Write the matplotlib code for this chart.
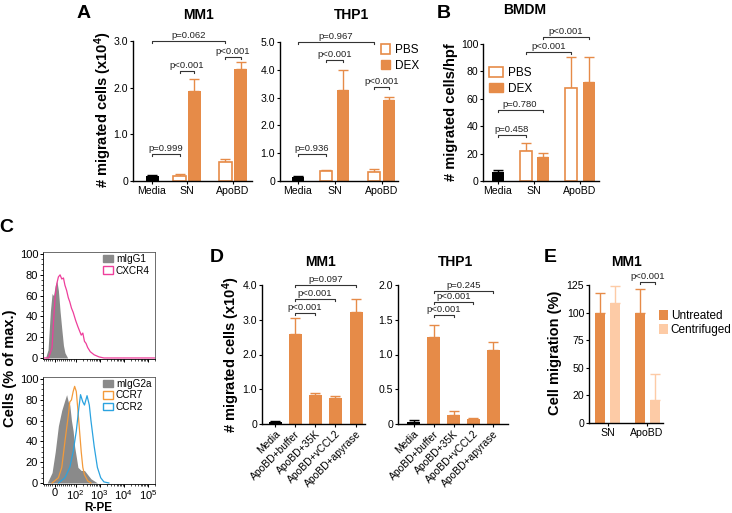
import matplotlib.pyplot as plt
from matplotlib.patches import Patch
from matplotlib.ticker import AutoMinorLocator, FixedLocator

plt.rcParams['font.family'] = ['Liberation Sans', 'DejaVu Sans']
plt.rcParams['mathtext.fontset'] = 'custom'
plt.rcParams['mathtext.rm'] = 'Liberation Sans'
plt.rcParams['mathtext.bf'] = 'Liberation Sans:bold'
plt.rcParams['mathtext.it'] = 'Liberation Sans:italic'

# ---- data ----
# A: MM1 / THP1 migration (x10^4)
groups = ['Media', 'SN', 'ApoBD']
mm1_media, mm1_media_err = 0.11, 0.02
mm1_pbs, mm1_pbs_err = [0.10, 0.40], [0.05, 0.07]
mm1_dex, mm1_dex_err = [1.93, 2.39], [0.25, 0.15]
thp1_media, thp1_media_err = 0.15, 0.03
thp1_pbs, thp1_pbs_err = [0.37, 0.33], [0.04, 0.11]
thp1_dex, thp1_dex_err = [3.29, 2.91], [0.69, 0.10]
# B: BMDM migrated cells/hpf
bmdm_media, bmdm_media_err = 6.3, 1.6
bmdm_pbs, bmdm_pbs_err = [22.0, 67.8], [5.8, 22.5]
bmdm_dex, bmdm_dex_err = [17.7, 72.2], [2.9, 18.6]

# C: flow histograms (R-PE, % of max)
igg1_x = [-43, -31, -20, -12, -5, 3, 11, 18, 26, 34, 42, 49, 62]
igg1_y = [0, 8, 45, 62, 60, 70, 74, 65, 45, 28, 12, 5, 0]
cxcr4_x = [-50, -28, -12, -5, 3, 11, 18, 26, 34, 42, 49, 57, 65, 72, 80, 88, 100,
           124, 145, 170, 198, 232, 270, 316, 405, 590, 940, 1500, 200000]
cxcr4_y = [0, 0, 10, 35, 60, 72, 78, 80, 76, 77, 70, 65, 58, 54, 48, 44, 36,
           30, 26, 22, 24, 16, 14, 10, 6, 3, 1, 0, 0]
igg2a_x = [-35, -12, 3, 18, 34, 49, 57, 65, 72, 80, 88, 95, 106, 124, 170, 232, 316, 432, 590, 800]
igg2a_y = [0, 10, 30, 55, 70, 80, 85, 78, 75, 60, 50, 35, 25, 15, 12, 12, 8, 4, 2, 0]
ccr7_x = [-12, 18, 34, 49, 65, 72, 80, 88, 95, 106, 124, 145, 170, 198, 232, 316, 432]
ccr7_y = [0, 5, 15, 40, 65, 78, 80, 88, 93, 88, 70, 50, 30, 15, 8, 2, 0]
ccr2_x = [18, 49, 72, 88, 106, 132, 159, 198, 232, 297, 369, 432, 590, 800, 1100, 1500, 2400]
ccr2_y = [0, 5, 15, 30, 50, 70, 85, 78, 75, 84, 75, 60, 35, 15, 5, 1, 0]

# D: inhibitors
treatments = ['Media', 'ApoBD+buffer', 'ApoBD+35K', 'ApoBD+vCCL2', 'ApoBD+apyrase']
d_mm1 = [0.07, 2.58, 0.83, 0.76, 3.21]
d_mm1_err = [0.02, 0.46, 0.05, 0.06, 0.40]
d_thp1 = [0.035, 1.25, 0.13, 0.067, 1.07]
d_thp1_err = [0.02, 0.18, 0.06, 0.025, 0.11]

# E: centrifugation
e_groups = ['SN', 'ApoBD']
e_untreated, e_untreated_err = [100, 100], [17.5, 21.4]
e_centrifuged, e_centrifuged_err = [108.4, 21.0], [15.6, 23.4]

# ---- style / layout ----
W, H = 732, 513
ORANGE = '#E68B48'
PEACH = '#FDCBA6'
GRAY = '#8a8a8a'
PINK = '#EE3E9B'
CCR7C = '#F39A3A'
CCR2C = '#2BA3E0'
TICK_FS = 7.6
P_FS = 6.8

fig = plt.figure(figsize=(W / 100, H / 100), dpi=100)


def add_ax(l, t, r, b):
    return fig.add_axes([l / W, 1 - b / H, (r - l) / W, (b - t) / H])


def prism(ax, ymax, yticks, ylabels=None):
    for s in ['top', 'right']:
        ax.spines[s].set_visible(False)
    for s in ['left', 'bottom']:
        ax.spines[s].set_linewidth(1.0)
    ax.set_ylim(0, ymax)
    ax.set_yticks(yticks)
    if ylabels is not None:
        ax.set_yticklabels(ylabels)
    ax.tick_params(labelsize=TICK_FS, length=2.5, width=0.8, pad=1.0)


def bar(ax, x, h, err, w, color, hollow=False):
    if hollow:
        ax.bar(x, h, w, facecolor='white', edgecolor=color, linewidth=1.2, zorder=2)
    else:
        ax.bar(x, h, w, color=color, zorder=2)
    ax.errorbar(x, h, yerr=[[0], [err]], color=color, capsize=3.5, elinewidth=1.0,
                capthick=1.0, fmt='none', zorder=1)


def bracket(ax, x1, x2, y, text, px_h):
    lo, hi = ax.get_ylim()
    drop = (hi - lo) * 2.0 / px_h
    ax.plot([x1, x1, x2, x2], [y - drop, y, y, y - drop], color='#333333', lw=0.8,
            clip_on=False, zorder=3)
    ax.annotate(text, xy=((x1 + x2) / 2, y), xytext=(0, 0.6), textcoords='offset points',
                ha='center', va='bottom', fontsize=P_FS, color='#222222', annotation_clip=False)


def ftext(x, y, s, **kw):
    fig.text(x / W, 1 - y / H, s, **kw)


def grouped(ax, pos, media, media_err, pbs, pbs_err, dex, dex_err, w):
    bar(ax, pos['Media'], media, media_err, w, 'black')
    for i, g in enumerate(['SN', 'Apo']):
        bar(ax, pos[g + '_PBS'], pbs[i], pbs_err[i], w, ORANGE, hollow=True)
        bar(ax, pos[g + '_DEX'], dex[i], dex_err[i], w, ORANGE)
    centers = [pos['Media'], (pos['SN_PBS'] + pos['SN_DEX']) / 2,
               (pos['Apo_PBS'] + pos['Apo_DEX']) / 2]
    ax.set_xticks(centers)
    ax.set_xticklabels(groups)


def pbs_dex_legend(ax, x, y, hl):
    ax.legend(handles=[Patch(facecolor='white', edgecolor=ORANGE, linewidth=1.2, label='PBS'),
                       Patch(facecolor=ORANGE, edgecolor=ORANGE, label='DEX')],
              loc='upper left', bbox_to_anchor=(x / W, 1 - y / H), bbox_transform=fig.transFigure,
              frameon=False, fontsize=8.5, handlelength=hl, handleheight=0.9, handletextpad=0.4,
              labelspacing=0.3, borderpad=0, borderaxespad=0)


# ---- A: MM1 ----
axA1 = add_ax(133, 41, 252, 181)
prism(axA1, 3.0, [0, 1, 2, 3], ['0', '1.0', '2.0', '3.0'])
axA1.set_xlim(0, 119)
posA1 = {'Media': 19, 'SN_PBS': 46.5, 'SN_DEX': 61, 'Apo_PBS': 92, 'Apo_DEX': 107.5}
grouped(axA1, posA1, mm1_media, mm1_media_err, mm1_pbs, mm1_pbs_err, mm1_dex, mm1_dex_err, 13)
for a, b, y, t in [('Media', 'Apo_PBS', 3.0, 'p=0.062'), ('SN_PBS', 'SN_DEX', 2.36, 'p<0.001'),
                   ('Apo_PBS', 'Apo_DEX', 2.66, 'p<0.001'), ('Media', 'SN_PBS', 0.58, 'p=0.999')]:
    bracket(axA1, posA1[a], posA1[b], y, t, 140)

# ---- A: THP1 ----
axA2 = add_ax(280, 42, 398, 181)
prism(axA2, 5.0, [0, 1, 2, 3, 4, 5], ['0', '1.0', '2.0', '3.0', '4.0', '5.0'])
axA2.set_xlim(0, 118)
posA2 = {'Media': 17.5, 'SN_PBS': 46, 'SN_DEX': 63, 'Apo_PBS': 94, 'Apo_DEX': 109}
grouped(axA2, posA2, thp1_media, thp1_media_err, thp1_pbs, thp1_pbs_err, thp1_dex, thp1_dex_err, 12)
for a, b, y, t in [('Media', 'Apo_PBS', 5.0, 'p=0.967'), ('SN_PBS', 'SN_DEX', 4.35, 'p<0.001'),
                   ('Apo_PBS', 'Apo_DEX', 3.37, 'p<0.001'), ('Media', 'SN_PBS', 0.97, 'p=0.936')]:
    bracket(axA2, posA2[a], posA2[b], y, t, 139)
pbs_dex_legend(axA2, 381, 44, 0.8)

# ---- B: BMDM ----
axB = add_ax(483, 44, 599, 181)
prism(axB, 100, [0, 20, 40, 60, 80, 100])
axB.set_xlim(0, 116)
posB = {'Media': 14.5, 'SN_PBS': 43, 'SN_DEX': 59.5, 'Apo_PBS': 88, 'Apo_DEX': 105.5}
grouped(axB, posB, bmdm_media, bmdm_media_err, bmdm_pbs, bmdm_pbs_err, bmdm_dex, bmdm_dex_err, 12)
for a, b, y, t in [('SN_DEX', 'Apo_DEX', 105, 'p<0.001'), ('SN_PBS', 'Apo_PBS', 94.4, 'p<0.001'),
                   ('Media', 'SN_DEX', 51.8, 'p=0.780'), ('Media', 'SN_PBS', 33.6, 'p=0.458')]:
    bracket(axB, posB[a], posB[b], y, t, 137)
pbs_dex_legend(axB, 489, 67, 1.2)

# ---- C: flow histograms ----
minor_x = ([v for v in range(-50, 100, 10) if v != 0] +
           [k * 10 ** d for d in range(2, 5) for k in range(2, 10)] + [2e5])


def flow_ax(t, b, show_labels):
    ax = add_ax(43, t, 155, b)
    ax.set_xscale('symlog', linthresh=100, linscale=0.79)
    ax.set_xlim(-55, 2e5)
    ax.set_ylim(-1, 102)
    ax.set_xticks([0, 1e2, 1e3, 1e4, 1e5])
    ax.xaxis.set_minor_locator(FixedLocator(minor_x))
    if show_labels:
        ax.set_xticklabels(['0', r'$10^2$', r'$10^3$', r'$10^4$', r'$10^5$'])
    else:
        ax.set_xticklabels([])
    ax.set_yticks([0, 20, 40, 60, 80, 100])
    ax.yaxis.set_minor_locator(AutoMinorLocator(4))
    for s in ax.spines.values():
        s.set_linewidth(0.6)
        s.set_color('#555555')
    ax.spines['left'].set_color('black')
    ax.spines['bottom'].set_color('black')
    ax.tick_params(labelsize=8, length=2.5, width=0.7, pad=1.0)
    ax.tick_params(axis='x', pad=0.5)
    ax.tick_params(which='minor', length=1.5, width=0.5)
    return ax


axC1 = flow_ax(252, 359, False)
axC1.fill_between(igg1_x, igg1_y, 0, color=GRAY, lw=0, zorder=1)
axC1.plot(cxcr4_x, cxcr4_y, color=PINK, lw=0.9, zorder=2)
axC1.legend(handles=[Patch(facecolor=GRAY, edgecolor=GRAY, label='mIgG1'),
                     Patch(facecolor='white', edgecolor=PINK, label='CXCR4')],
            loc='upper left', bbox_to_anchor=(103 / W, 1 - 254 / H), bbox_transform=fig.transFigure,
            frameon=False, fontsize=7.2, handlelength=1.0, handleheight=0.8, handletextpad=0.3,
            labelspacing=0.15, borderpad=0, borderaxespad=0)

axC2 = flow_ax(377, 484, True)
axC2.fill_between(igg2a_x, igg2a_y, 0, color=GRAY, lw=0, zorder=1)
axC2.plot(ccr7_x, ccr7_y, color=CCR7C, lw=0.9, zorder=2)
axC2.plot(ccr2_x, ccr2_y, color=CCR2C, lw=0.9, zorder=2)
axC2.legend(handles=[Patch(facecolor=GRAY, edgecolor=GRAY, label='mIgG2a'),
                     Patch(facecolor='white', edgecolor=CCR7C, label='CCR7'),
                     Patch(facecolor='white', edgecolor=CCR2C, label='CCR2')],
            loc='upper left', bbox_to_anchor=(103 / W, 1 - 379 / H), bbox_transform=fig.transFigure,
            frameon=False, fontsize=7.2, handlelength=1.0, handleheight=0.8, handletextpad=0.3,
            labelspacing=0.15, borderpad=0, borderaxespad=0)

# ---- D ----
def panel_d(l, r, ymax, yticks, ylabels, vals, errs, pos, sigs):
    ax = add_ax(l, 285, r, 424)
    prism(ax, ymax, yticks, ylabels)
    ax.set_xlim(0, r - l)
    for i, (v, e) in enumerate(zip(vals, errs)):
        bar(ax, pos[i], v, e, 13, 'black' if i == 0 else ORANGE)
    ax.set_xticks(pos)
    ax.set_xticklabels(treatments, rotation=45, ha='right', rotation_mode='anchor', fontsize=7.4)
    for a, b, y, t in sigs:
        bracket(ax, pos[a], pos[b], y, t, 139)
    return ax


panel_d(262, 365, 4.0, [0, 1, 2, 3, 4], ['0', '1.0', '2.0', '3.0', '4.0'], d_mm1, d_mm1_err,
        [13, 33, 53, 73, 94],
        [(1, 4, 4.0, 'p=0.097'), (1, 3, 3.59, 'p<0.001'), (1, 2, 3.2, 'p<0.001')])
panel_d(398, 508, 2.0, [0, 0.5, 1.0, 1.5, 2.0], ['0', '0.5', '1.0', '1.5', '2.0'], d_thp1, d_thp1_err,
        [15.5, 35.5, 55.5, 75, 95],
        [(1, 4, 1.92, 'p=0.245'), (1, 3, 1.76, 'p<0.001'), (1, 2, 1.57, 'p<0.001')])

# ---- E ----
axE = add_ax(589, 285, 663, 423)
prism(axE, 125, [0, 25, 50, 75, 100, 125], ['0', '20', '50', '75', '100', '125'])
axE.set_xlim(0, 74)
posE_u = [11, 51]
posE_c = [26, 65.5]
for i in range(2):
    bar(axE, posE_u[i], e_untreated[i], e_untreated_err[i], 10, ORANGE)
    bar(axE, posE_c[i], e_centrifuged[i], e_centrifuged_err[i], 10, PEACH)
axE.set_xticks([18.5, 58])
axE.set_xticklabels(e_groups)
bracket(axE, posE_u[1], posE_c[1], 128, 'p<0.001', 138)
axE.legend(handles=[Patch(facecolor=ORANGE, label='Untreated'),
                    Patch(facecolor=PEACH, label='Centrifuged')],
           loc='upper left', bbox_to_anchor=(659 / W, 1 - 310 / H), bbox_transform=fig.transFigure,
           frameon=False, fontsize=8.5, handlelength=0.8, handleheight=0.9, handletextpad=0.2,
           labelspacing=0.2, borderpad=0, borderaxespad=0)

# ---- titles, axis labels, panel letters ----
title_kw = dict(fontsize=10, fontweight='bold', ha='center', va='center')
ftext(198, 15, 'MM1', **title_kw)
ftext(352, 15, 'THP1', **title_kw)
ftext(525, 10, 'BMDM', **title_kw)
ftext(321, 262, 'MM1', **title_kw)
ftext(455, 262, 'THP1', **title_kw)
ftext(626, 262, 'MM1', **title_kw)

lab_kw = dict(fontsize=10.5, fontweight='bold', ha='center', va='center', rotation=90)
ftext(103, 110, r'# migrated cells (x10$^\mathbf{4}$)', **lab_kw)
ftext(451, 112, '# migrated cells/hpf', **lab_kw)
ftext(10, 368, 'Cells (% of max.)', **lab_kw)
ftext(231, 355, r'# migrated cells (x10$^\mathbf{4}$)', **lab_kw)
ftext(555, 353, 'Cell migration (%)', **lab_kw)
ftext(98, 508, 'R-PE', fontsize=8.5, fontweight='bold', ha='center', va='center')

let_kw = dict(fontsize=14, fontweight='bold', ha='center', va='center')
ftext(84, 14, 'A', **let_kw)
ftext(444, 14, 'B', **let_kw)
ftext(6, 228, 'C', **let_kw)
ftext(217, 257, 'D', **let_kw)
ftext(550, 257, 'E', **let_kw)

fig.savefig('out.png', dpi=100)
